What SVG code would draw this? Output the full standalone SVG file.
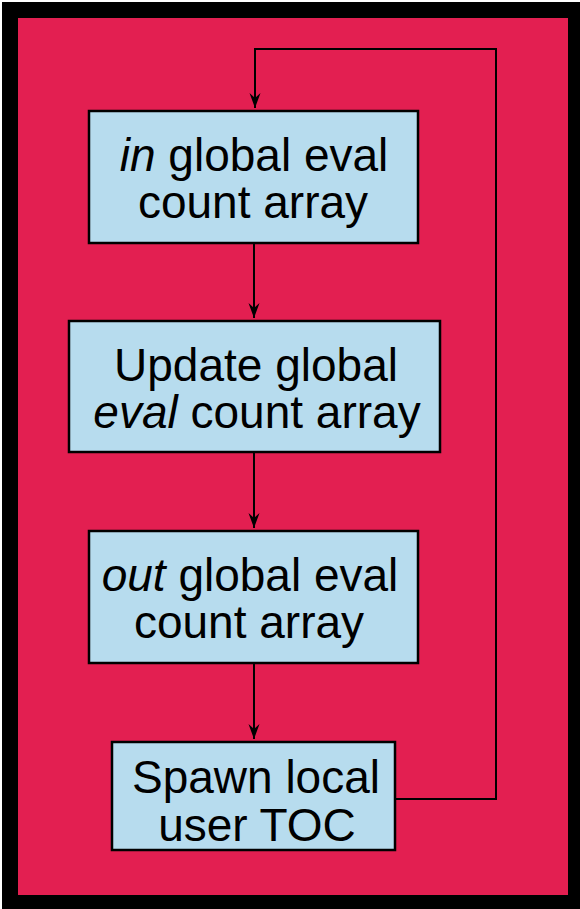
<svg xmlns="http://www.w3.org/2000/svg" width="580" height="909" viewBox="0 0 580 909">
  <style>
    .box { fill: #B7DCEE; stroke: #000; stroke-width: 2.5; }
    .lbl { font-family: "Liberation Sans", Arial, sans-serif; font-size: 46px; fill: #000; text-anchor: middle; }
    .it { font-style: italic; }
    .wire { fill: none; stroke: #000; stroke-width: 2; }
  </style>
  <defs>
    <marker id="arrow" markerUnits="userSpaceOnUse" markerWidth="16" markerHeight="12" viewBox="0 -6 16 12" refX="15" refY="0" orient="auto">
      <path d="M0,-5.5 L15,0 L0,5.5 L5,0 Z" fill="#000"/>
    </marker>
  </defs>

  <!-- frame -->
  <rect x="0" y="0" width="580" height="909" fill="#fff"/>
  <rect x="2" y="2" width="578" height="907" fill="#000"/>
  <rect x="18" y="18" width="550" height="877" fill="#E31F51"/>

  <!-- connectors -->
  <g id="connectors">
    <path class="wire" d="M254,244 V318" marker-end="url(#arrow)"/>
    <path class="wire" d="M254,453 V528" marker-end="url(#arrow)"/>
    <path class="wire" d="M254,664 V739" marker-end="url(#arrow)"/>
    <path class="wire" d="M395,799 H496 V49 H255 V108" marker-end="url(#arrow)"/>
  </g>

  <g id="in-array">
    <rect class="box" x="89" y="111" width="329" height="132"/>
    <text class="lbl" x="254" y="171"><tspan class="it">in</tspan> global eval</text>
    <text class="lbl" x="253" y="218">count array</text>
  </g>

  <g id="update-array">
    <rect class="box" x="69" y="321" width="371" height="131"/>
    <text class="lbl" x="256" y="381">Update global</text>
    <text class="lbl" x="257" y="428"><tspan class="it">eval</tspan> count array</text>
  </g>

  <g id="out-array">
    <rect class="box" x="89" y="531" width="329" height="132"/>
    <text class="lbl" x="250" y="591"><tspan class="it">out</tspan> global eval</text>
    <text class="lbl" x="249" y="638">count array</text>
  </g>

  <g id="spawn-toc">
    <rect class="box" x="112" y="742" width="283" height="108"/>
    <text class="lbl" x="256" y="793">Spawn local</text>
    <text class="lbl" x="257" y="841">user TOC</text>
  </g>
</svg>
